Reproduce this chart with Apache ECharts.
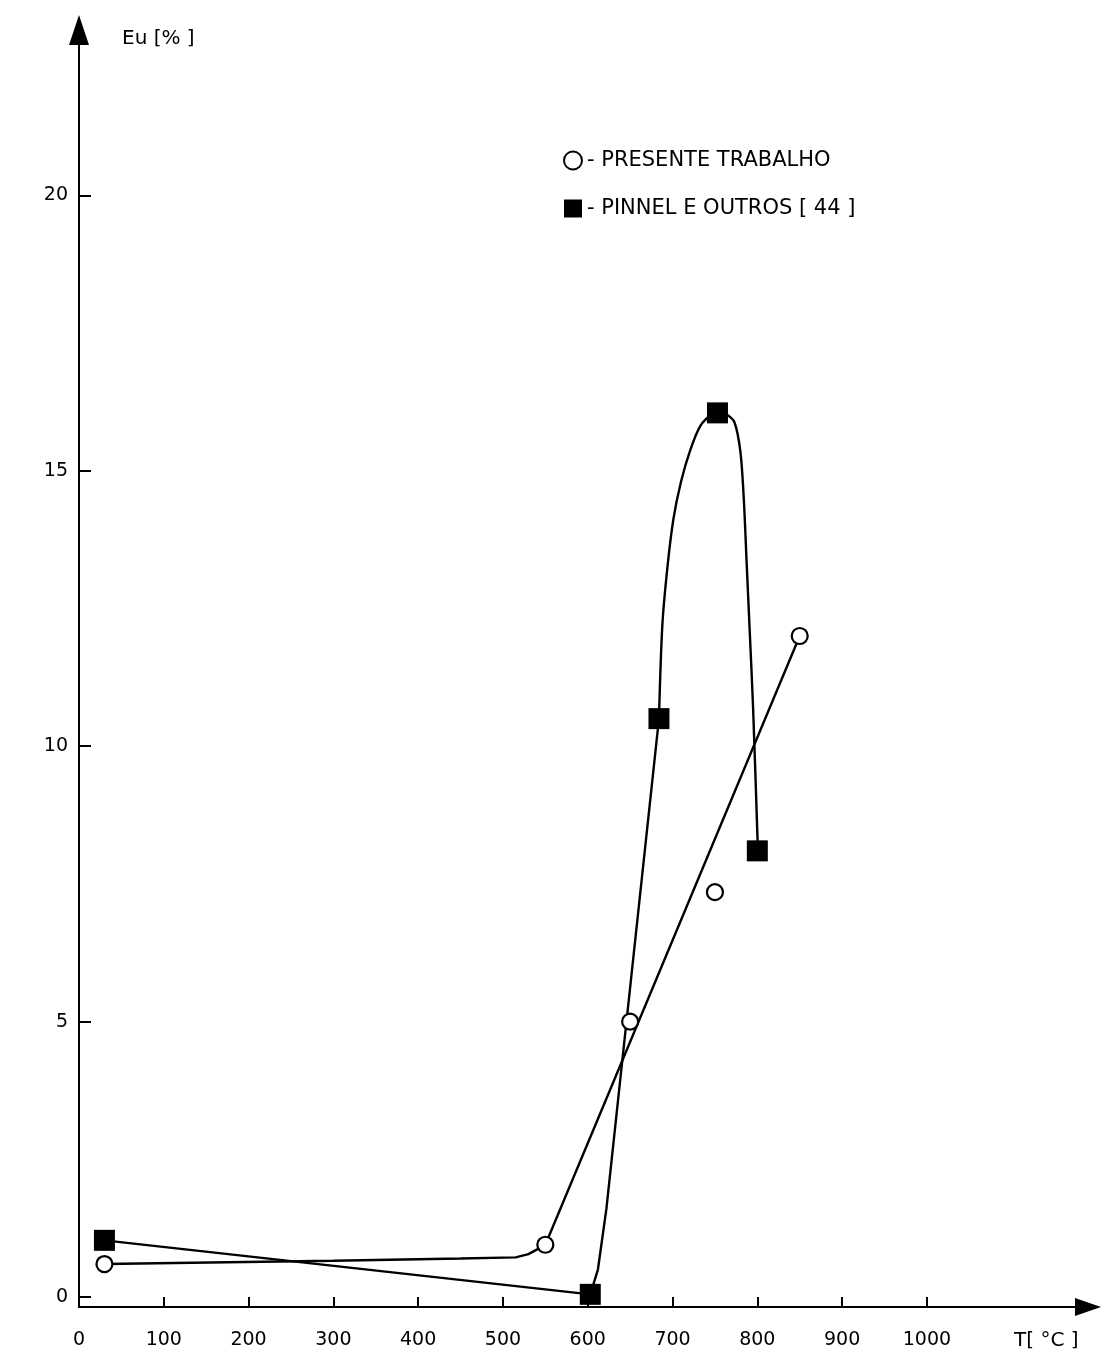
<!DOCTYPE html>
<html>
<head>
<meta charset="utf-8">
<script src="https://cdn.jsdelivr.net/npm/echarts@6/dist/echarts.min.js"></script>
<style>html,body{margin:0;padding:0;background:#fff}#c{width:1105px;height:1359px}</style>
</head>
<body>
<div id="c"></div>
<script>
const xTickValues = [100, 200, 300, 400, 500, 600, 700, 800, 900, 1000];
const xLabelValues = [0, 100, 200, 300, 400, 500, 600, 700, 800, 900, 1000];
const yTickValues = [0, 5, 10, 15, 20];

const presenteName = 'PRESENTE TRABALHO';
const pinnelName = 'PINNEL E OUTROS [ 44 ]';

// measured points
const presenteX = [30, 550, 650, 750, 850];
const presenteY = [0.6, 0.95, 5.0, 7.35, 12.0];
const pinnelX = [30, 603, 684, 753, 800];
const pinnelY = [1.03, 0.05, 10.5, 16.05, 8.1];

// drawn curves
const presenteCurveX = [30, 300, 450, 515, 530, 541, 550, 850];
const presenteCurveY = [0.6, 0.66, 0.7, 0.72, 0.78, 0.87, 0.95, 12.0];
const pinnelLineX = [30, 603, 612, 622, 684];
const pinnelLineY = [1.03, 0.05, 0.5, 1.6, 10.5];
const pinnelPeakX = [684, 688, 694, 701, 710, 721, 733, 746, 753.5, 763, 773, 780, 784, 787.5, 791, 795, 800.7];
const pinnelPeakY = [10.5, 12.2, 13.25, 14.12, 14.8, 15.38, 15.82, 16.02, 16.06, 16.03, 15.88, 15.35, 14.5, 13.3, 12.1, 10.7, 8.1];

const zip = (a, b) => a.map((v, i) => [v, b[i]]);
const FONT = 'DejaVu Sans';
const LW = 2.4;

const chart = echarts.init(document.getElementById('c'), null, {renderer: 'canvas'});
chart.setOption({
  backgroundColor: '#fff',
  animation: false,
  grid: {left: 79, right: 17, top: 30, bottom: 52, containLabel: false},
  legend: {
    orient: 'vertical',
    left: 558,
    top: 145,
    itemWidth: 18,
    itemHeight: 18,
    itemGap: 27,
    selectedMode: false,
    formatter: n => '- ' + n,
    textStyle: {fontFamily: FONT, fontSize: 21, color: '#000'},
    data: [{name: presenteName, icon: 'circle'}, {name: pinnelName, icon: 'rect'}]
  },
  xAxis: {
    type: 'value',
    min: 0,
    max: 1190,
    interval: 100,
    splitLine: {show: false},
    axisLine: {show: true, onZero: false, lineStyle: {color: '#000', width: 2}, symbol: ['none', 'triangle'], symbolSize: [18, 26]},
    axisTick: {show: true, inside: true, length: 10, lineStyle: {color: '#000', width: 2}, customValues: xTickValues},
    axisLabel: {show: true, color: '#000', fontFamily: FONT, fontSize: 19, margin: 24, customValues: xLabelValues, formatter: v => String(v)}
  },
  yAxis: {
    type: 'value',
    min: -0.18,
    max: 23.0,
    splitLine: {show: false},
    axisLine: {show: true, onZero: false, lineStyle: {color: '#000', width: 2}, symbol: ['none', 'triangle'], symbolSize: [20, 30]},
    axisTick: {show: true, inside: true, length: 12, lineStyle: {color: '#000', width: 2}, customValues: yTickValues},
    axisLabel: {show: true, color: '#000', fontFamily: FONT, fontSize: 19, margin: 11, customValues: yTickValues, formatter: v => String(v)}
  },
  graphic: [
    {type: 'text', left: 122, top: 29, style: {text: 'Eu [% ]', fontFamily: FONT, fontSize: 20, fill: '#000'}},
    {type: 'text', left: 1014, top: 1331, style: {text: 'T[ °C ]', fontFamily: FONT, fontSize: 20, fill: '#000'}}
  ],
  series: [
    {
      type: 'line', name: 'presenteCurve', data: zip(presenteCurveX, presenteCurveY),
      showSymbol: false, lineStyle: {color: '#000', width: LW}, silent: true, z: 2
    },
    {
      type: 'line', name: 'pinnelLine', data: zip(pinnelLineX, pinnelLineY),
      showSymbol: false, lineStyle: {color: '#000', width: LW}, silent: true, z: 2
    },
    {
      type: 'line', name: 'pinnelPeak', data: zip(pinnelPeakX, pinnelPeakY),
      showSymbol: false, smooth: 0.3, lineStyle: {color: '#000', width: LW}, silent: true, z: 2
    },
    {
      type: 'scatter', name: presenteName, data: zip(presenteX, presenteY),
      symbol: 'circle', symbolSize: 16,
      itemStyle: {color: '#fff', borderColor: '#000', borderWidth: 2.2, opacity: 1}, z: 5
    },
    {
      type: 'scatter', name: pinnelName, data: zip(pinnelX, pinnelY),
      symbol: 'rect', symbolSize: 21,
      itemStyle: {color: '#000', borderColor: '#000', borderWidth: 0, opacity: 1}, z: 5
    }
  ]
});
</script>
</body>
</html>
